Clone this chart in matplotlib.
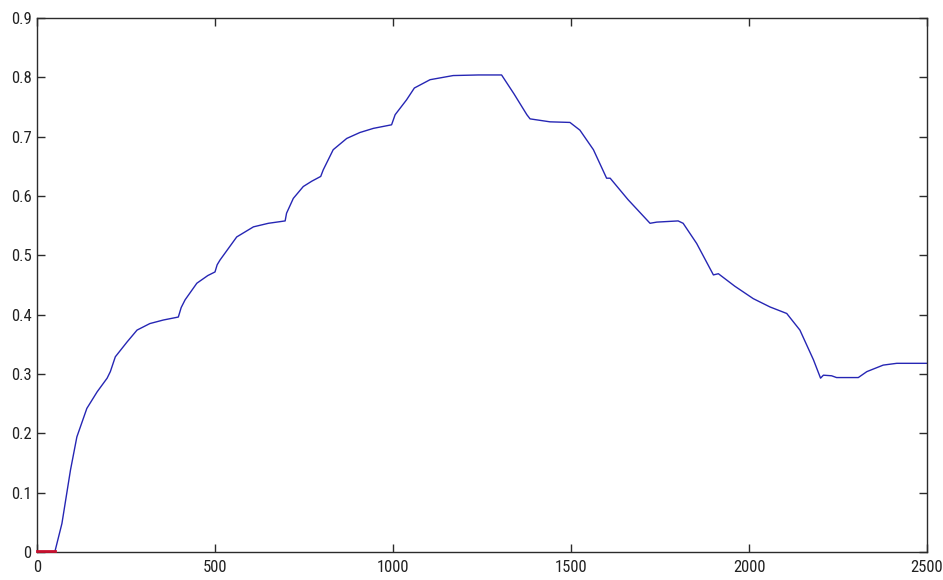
import matplotlib
matplotlib.use("Agg")
import matplotlib.pyplot as plt
from matplotlib import font_manager

# Response curve samples
x_resp = [50, 70, 94, 112, 140, 169, 197, 206, 220, 253, 281, 317, 355, 397,
          405, 416, 449, 480, 500, 506, 514, 561, 608, 650, 697, 701, 720, 748,
          772, 797, 804, 832, 870, 907, 945, 996, 1006, 1038, 1060, 1104, 1169,
          1240, 1305, 1340, 1376, 1385, 1441, 1497, 1525, 1563, 1600, 1610,
          1660, 1722, 1741, 1801, 1815, 1853, 1900, 1914, 1960, 2012, 2059,
          2106, 2143, 2181, 2201, 2209, 2232, 2246, 2307, 2331, 2377, 2415,
          2500]
y_resp = [0.0, 0.048, 0.138, 0.194, 0.242, 0.270, 0.293, 0.304, 0.329, 0.354,
          0.374, 0.385, 0.391, 0.396, 0.412, 0.425, 0.453, 0.466, 0.472, 0.484,
          0.492, 0.531, 0.548, 0.554, 0.558, 0.571, 0.596, 0.616, 0.625, 0.633,
          0.644, 0.678, 0.697, 0.707, 0.714, 0.720, 0.737, 0.762, 0.782, 0.796,
          0.803, 0.804, 0.804, 0.772, 0.737, 0.730, 0.725, 0.724, 0.711, 0.678,
          0.630, 0.630, 0.594, 0.554, 0.556, 0.558, 0.554, 0.520, 0.467, 0.469,
          0.448, 0.427, 0.413, 0.402, 0.374, 0.324, 0.293, 0.298, 0.297, 0.294,
          0.294, 0.304, 0.315, 0.318, 0.318]

# Initial idle segment
x_idle = [0, 50]
y_idle = [0.001, 0.001]

x_ticks = [0, 500, 1000, 1500, 2000, 2500]
y_ticks = [0, 0.1, 0.2, 0.3, 0.4, 0.5, 0.6, 0.7, 0.8, 0.9]
x_labels = ["0", "500", "1000", "1500", "2000", "2500"]
y_labels = ["0", "0.1", "0.2", "0.3", "0.4", "0.5", "0.6", "0.7", "0.8", "0.9"]


def narrow_font():
    """Pick a condensed/narrow sans face if one is installed."""
    best = None
    for f in font_manager.fontManager.ttflist:
        if f.style != "normal" or f.weight not in (400, "normal", "regular"):
            continue
        narrow = ("Narrow" in f.name or "Condensed" in f.name
                  or str(f.stretch) in ("condensed", "semi-condensed",
                                        "extra-condensed", "ultra-condensed"))
        if not narrow or "Mono" in f.name or "Serif" in f.name:
            continue
        rank = 0 if "Liberation" in f.name else (1 if "Roboto" in f.name else 2)
        if best is None or rank < best[0]:
            best = (rank, f.fname)
    return best[1] if best else None


fname = narrow_font()
if fname:
    tick_font = font_manager.FontProperties(fname=fname, size=12)
else:
    tick_font = font_manager.FontProperties(family=["Liberation Sans", "DejaVu Sans"],
                                            size=10.5)

fig = plt.figure(figsize=(9.43, 5.80), dpi=100)
ax = fig.add_axes([37 / 943, 28 / 580, 890 / 943, 534 / 580])

ax.plot(x_resp, y_resp, color="#2626b4", lw=1.0)
ax.plot(x_idle, y_idle, color="#c8102e", lw=2.0, clip_on=False, zorder=3)

ax.set_xlim(0, 2500)
ax.set_ylim(0, 0.9)
ax.set_xticks(x_ticks)
ax.set_xticklabels(x_labels, fontproperties=tick_font, color="#222222")
ax.set_yticks(y_ticks)
ax.set_yticklabels(y_labels, fontproperties=tick_font, color="#222222")

for s in ax.spines.values():
    s.set_color("#2b2b2b")
    s.set_linewidth(1.0)

ax.tick_params(direction="in", length=6, width=1.0, color="#2b2b2b",
               top=True, right=True)
ax.tick_params(axis="x", pad=6)
ax.tick_params(axis="y", pad=4)

fig.savefig("out.png", dpi=100, facecolor="white")
